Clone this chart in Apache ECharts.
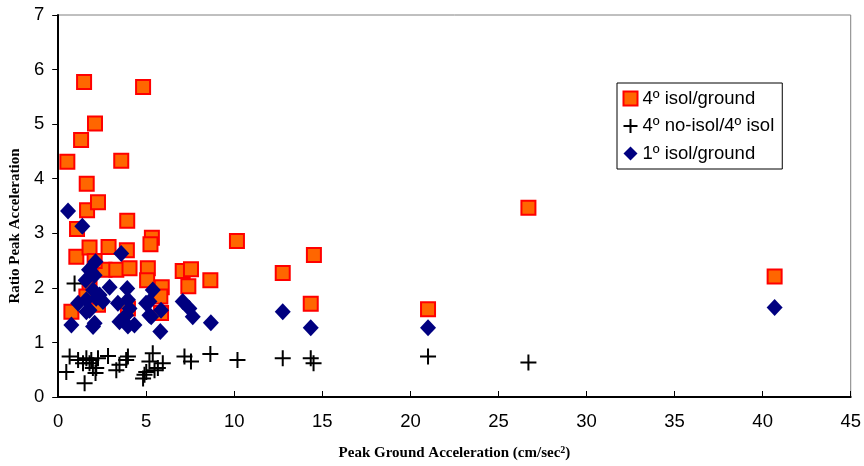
<!DOCTYPE html>
<html><head><meta charset="utf-8">
<script src="https://cdn.jsdelivr.net/npm/echarts@6/dist/echarts.min.js"></script>
<style>html,body{margin:0;padding:0;background:#fff}#c{width:864px;height:466px}</style>
</head><body><div id="c"></div>
<script>
// 4º isol/ground
const isolX = [0.52,1.47,1.30,2.09,1.62,1.64,2.26,3.58,4.82,3.92,1.07,1.03,1.78,2.86,3.90,5.32,5.24,2.63,3.30,4.05,5.09,5.05,5.88,5.80,7.07,7.54,7.39,8.64,10.15,12.75,14.52,14.34,21.0,26.7,40.68,1.78,2.12,0.75,3.96,5.84,2.07,2.26,1.60];
const isolY = [4.31,5.77,4.71,5.01,3.91,3.42,3.57,4.33,5.68,3.23,3.08,2.57,2.74,2.75,2.69,2.92,2.80,2.33,2.33,2.36,2.36,2.14,2.01,1.84,2.31,2.34,2.03,2.14,2.86,2.27,2.60,1.71,1.61,3.47,2.21,1.99,1.72,1.56,1.62,1.54,2.49,1.69,1.84];
// 4º no-isol/4º isol
const noIsolX = [0.93,0.65,0.46,1.13,1.50,1.60,1.78,1.97,2.12,2.26,2.83,3.48,3.30,3.96,3.86,5.37,5.18,4.90,5.00,4.82,5.47,5.94,5.66,7.17,7.54,8.64,10.18,12.75,14.34,14.50,21.0,26.7,2.16,1.41,1.88];
const noIsolY = [2.08,0.74,0.46,0.68,0.25,0.71,0.62,0.53,0.44,0.71,0.75,0.59,0.49,0.74,0.68,0.80,0.65,0.41,0.46,0.34,0.49,0.62,0.53,0.74,0.65,0.79,0.68,0.71,0.71,0.62,0.74,0.63,0.53,0.62,0.68];
// 1º isol/ground
const oneX = [0.56,1.37,3.58,2.12,1.75,1.56,1.98,2.35,2.92,3.92,5.37,5.18,1.13,1.60,2.16,3.39,3.96,4.99,1.60,4.05,5.84,0.75,2.07,3.48,3.86,4.33,5.18,5.28,5.80,3.96,1.78,2.54,7.07,7.45,7.64,8.67,12.75,14.34,21.0,40.68,2.07,1.98];
const oneY = [3.41,3.13,2.63,2.48,2.33,2.14,1.96,1.87,2.01,1.99,1.96,1.75,1.72,1.78,1.81,1.72,1.78,1.72,1.56,1.62,1.59,1.32,1.35,1.38,1.50,1.32,1.50,1.47,1.20,1.30,1.59,1.75,1.75,1.62,1.47,1.36,1.56,1.27,1.27,1.64,2.23,1.29];
const xTicks = [0,5,10,15,20,25,30,35,40,45];
const yTicks = [0,1,2,3,4,5,6,7];
const seriesNames = ['4º isol/ground','4º no-isol/4º isol','1º isol/ground'];

const zip = (a,b) => a.map((v,i)=>[v,b[i]]);
const chart = echarts.init(document.getElementById('c'), null, {renderer:'canvas'});
const sans = 'Arial, "Liberation Sans", sans-serif';
const serif = '"Times New Roman", "Liberation Serif", serif';
chart.setOption({
  animation:false,
  backgroundColor:'#fff',
  grid:{left:57,right:12,top:15,bottom:69,show:true,borderColor:'#808080',borderWidth:1},
  xAxis:{type:'value',min:xTicks[0],max:xTicks[xTicks.length-1],interval:5,
    axisLine:{lineStyle:{color:'#000',width:2}},
    axisTick:{inside:true,length:6,lineStyle:{color:'#000',width:1}},
    splitLine:{show:false},
    axisLabel:{color:'#000',fontFamily:sans,fontSize:18.5,margin:15},
    name:'Peak Ground Acceleration (cm/sec{sup|2})',nameLocation:'middle',nameGap:48,
    nameTextStyle:{color:'#000',fontFamily:serif,fontWeight:'bold',fontSize:15,
      rich:{sup:{fontFamily:serif,fontWeight:'bold',fontSize:10,verticalAlign:'top',padding:[0,0,7,0]}}}},
  yAxis:{type:'value',min:yTicks[0],max:yTicks[yTicks.length-1],interval:1,
    axisLine:{lineStyle:{color:'#000',width:2}},
    axisTick:{inside:false,length:6,lineStyle:{color:'#000',width:1}},
    splitLine:{show:false},
    axisLabel:{color:'#000',fontFamily:sans,fontSize:18.5,margin:14},
    name:'Ratio Peak Acceleration',nameLocation:'middle',nameGap:32,
    nameTextStyle:{color:'#000',fontFamily:serif,fontWeight:'bold',fontSize:15,padding:[0,40,0,0]}},
  legend:{orient:'vertical',left:617,top:83,show:true,
    backgroundColor:'#fff',borderColor:'#000',borderWidth:1,
    padding:[6,8,6,4],itemGap:8.5,itemWidth:14,itemHeight:14,
    textStyle:{fontFamily:sans,fontSize:18.5,color:'#000'},
    data:seriesNames},
  series:[
    {name:seriesNames[0],type:'scatter',symbol:'rect',symbolSize:14,z:2,
      itemStyle:{color:'#FF6600',borderColor:'#FF0000',borderWidth:2,opacity:1},
      data:zip(isolX,isolY)},
    {name:seriesNames[1],type:'scatter',symbol:'path://M5,0 L5,10 M0,5 L10,5',symbolSize:16,z:3,
      itemStyle:{color:'none',borderColor:'#000',borderWidth:2,opacity:1},
      data:zip(noIsolX,noIsolY)},
    {name:seriesNames[2],type:'scatter',symbol:'diamond',symbolSize:[16,17],z:4,
      itemStyle:{color:'#000080',opacity:1},
      data:zip(oneX,oneY)}
  ]
});
</script></body></html>
